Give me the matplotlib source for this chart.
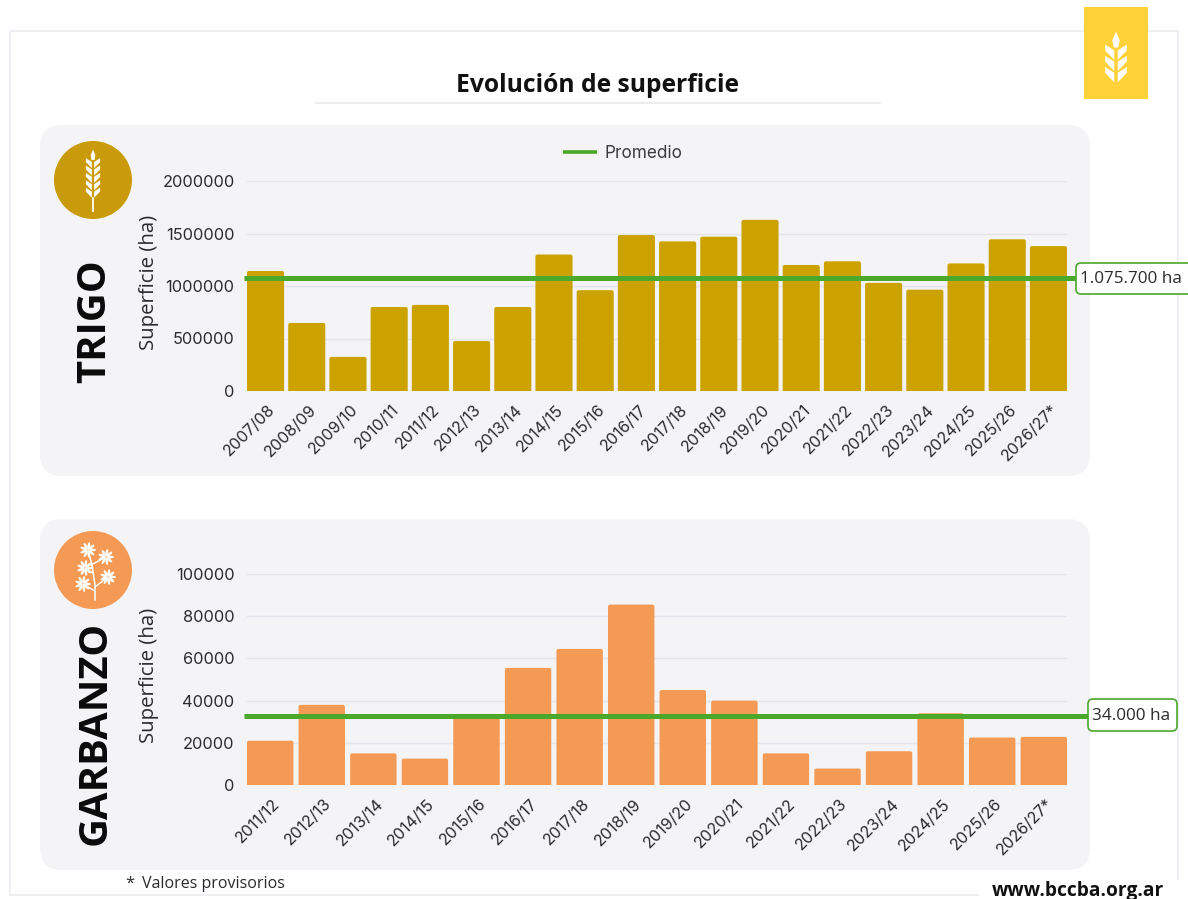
import matplotlib
matplotlib.use('Agg')
import math
import matplotlib.pyplot as plt
from matplotlib.patches import FancyBboxPatch, Rectangle, Circle, Ellipse, Polygon
from matplotlib.transforms import ScaledTranslation

W, H = 1188, 899

trigo_cat = ['2007/08', '2008/09', '2009/10', '2010/11', '2011/12', '2012/13', '2013/14',
             '2014/15', '2015/16', '2016/17', '2017/18', '2018/19', '2019/20', '2020/21',
             '2021/22', '2022/23', '2023/24', '2024/25', '2025/26', '2026/27*']
trigo_val = [1143000, 648000, 325000, 800000, 820000, 476000, 800000,
             1300000, 960000, 1485000, 1425000, 1470000, 1630000, 1200000,
             1235000, 1030000, 965000, 1215000, 1445000, 1380000]
trigo_prom = 1075700
trigo_ticks = [0, 500000, 1000000, 1500000, 2000000]

garb_cat = ['2011/12', '2012/13', '2013/14', '2014/15', '2015/16', '2016/17', '2017/18', '2018/19',
            '2019/20', '2020/21', '2021/22', '2022/23', '2023/24', '2024/25', '2025/26', '2026/27*']
garb_val = [21000, 38000, 15000, 12500, 33000, 55500, 64500, 85500,
            45000, 40000, 15000, 7800, 16000, 34000, 22500, 22800]
garb_prom = 32700   # la linea esta dibujada un poco por debajo de 34000
garb_ticks = [0, 20000, 40000, 60000, 80000, 100000]

VERDE = '#4aa82a'
TXT = '#2b2b2b'
GRID = '#e4e4ea'


def px_axes(x0, y_top, x1, y_bot):
    return plt.gcf().add_axes([x0 / W, 1 - y_bot / H, (x1 - x0) / W, (y_bot - y_top) / H])


def panel(bg, y0, y1):
    bg.add_patch(FancyBboxPatch((40 + 22, y0 + 22), 1050 - 44, y1 - y0 - 44,
                                boxstyle='round,pad=22,rounding_size=22',
                                fc='#f4f4f7', ec='none', zorder=1))


def espiga(a, cx, cy, s, n, paso, stem=None):
    # hojas de la espiga
    for i in range(n):
        yy = cy + i * paso
        for sgn in (-1, 1):
            a.add_patch(Polygon([(cx + sgn * 1.2 * s, yy + 7.5 * s), (cx + sgn * 7.5 * s, yy + 1 * s),
                                 (cx + sgn * 7.5 * s, yy - 3 * s), (cx + sgn * 1.2 * s, yy + 1 * s)],
                                fc='white', ec='none', zorder=6))
    a.add_patch(Polygon([(cx, cy - 12 * s), (cx + 2.5 * s, cy - 6 * s), (cx + 1.5 * s, cy - 1 * s),
                         (cx - 1.5 * s, cy - 1 * s), (cx - 2.5 * s, cy - 6 * s)],
                        fc='white', ec='none', zorder=6))
    if stem:
        a.plot([cx, cx], stem, color='white', lw=1.3, zorder=6)


def ramita(a, cx, cy):
    a.plot([cx + 2, cx + 2, cx - 1, cx - 5], [cy + 29, cy + 14, cy - 6, cy - 21],
           color='white', lw=1.1, zorder=5)
    for dx0, dy0, dx1, dy1 in [(2, 16, 15, 6), (2, 20, -10, 13), (0, 2, -8, -3), (-2, -6, 13, -14)]:
        a.plot([cx + dx0, cx + dx1], [cy + dy0, cy + dy1], color='white', lw=1.0, zorder=5)
    for gx, gy in [(-5, -21), (13, -14), (-8, -3), (15, 6), (-10, 13)]:
        for k in range(9):
            ang = k * 40
            dx = 4.5 * math.cos(math.radians(ang))
            dy = 4.5 * math.sin(math.radians(ang))
            a.add_patch(Ellipse((cx + gx + dx, cy + gy + dy), 7, 2.6, angle=ang,
                                fc='white', ec='none', zorder=6))


def barras(pos, cats, vals, ticks, ymax, prom, color, line_end):
    ax = px_axes(*pos)
    ax.patch.set_alpha(0)
    ax.set_xlim(-0.45, len(vals) - 0.55)
    ax.set_ylim(0, ymax)
    # esquinas de arriba redondeadas: la parte de abajo queda recortada por el eje
    x_px = (len(vals) - 1 + 0.9) / (pos[2] - pos[0])
    y_px = ymax / (pos[3] - pos[1])
    r = 2 * x_px
    for i, v in enumerate(vals):
        ax.add_patch(FancyBboxPatch((i - 0.45, -5 * y_px), 0.9, v + 5 * y_px,
                                    boxstyle='round,pad=0,rounding_size=%f' % r,
                                    mutation_aspect=y_px / x_px, fc=color, ec='none', zorder=2))
    ax.set_yticks(ticks)
    ax.set_yticklabels([str(t) for t in ticks])
    ax.set_xticks(range(len(cats)))
    ax.set_xticklabels(cats, rotation=45, ha='right', va='top', rotation_mode='anchor',
                       fontsize=11.6, family='Inter', color=TXT)
    plt.setp(ax.get_yticklabels(), fontsize=11.8, family='Inter', color=TXT)
    ax.tick_params(axis='both', length=0)
    ax.tick_params(axis='y', pad=9)
    ax.tick_params(axis='x', pad=8)
    off = ScaledTranslation(2 / 100, 0, plt.gcf().dpi_scale_trans)
    for l in ax.get_xticklabels():
        l.set_transform(l.get_transform() + off)
    ax.grid(axis='y', color=GRID, lw=1, zorder=1)
    ax.set_axisbelow(True)
    for s in ax.spines.values():
        s.set_visible(False)
    ax.plot([-3 / 820, line_end], [prom, prom], color=VERDE, lw=3.6, solid_capstyle='butt',
            transform=ax.get_yaxis_transform(), clip_on=False, zorder=4)
    return ax


fig = plt.figure(figsize=(W / 100, H / 100), dpi=100, facecolor='white')

bg = fig.add_axes([0, 0, 1, 1], zorder=0)
bg.set_xlim(0, W)
bg.set_ylim(H, 0)
bg.axis('off')

bg.add_patch(Rectangle((9.5, 31), 1168, 864, fc='white', ec='#eeeef3', lw=1.5, zorder=0))
panel(bg, 125, 476)
panel(bg, 519, 870)
bg.plot([316, 880], [103, 103], color='#e8e8ee', lw=1.2, zorder=1)
bg.text(598, 85.5, 'Evolución de superficie', family='Open Sans', weight='bold', fontsize=17.7,
        color='#111111', ha='center', va='center')

bg.add_patch(Circle((93, 180), 39, fc='#c99a0a', ec='none', zorder=3))
espiga(bg, 93, 161, 0.95, 5, 7.4, stem=(198, 211))
bg.add_patch(Circle((93, 570), 39, fc='#f49a55', ec='none', zorder=3))
ramita(bg, 93, 571)

bg.text(95, 321.5, 'TRIGO', family='Open Sans', weight='bold', fontsize=28.8, rotation=90,
        ha='center', va='center', color='#0a0a0a')
bg.text(95, 733, 'GARBANZO', family='Open Sans', weight='bold', fontsize=28.8, rotation=90,
        ha='center', va='center', color='#0a0a0a')
bg.text(149, 282, 'Superficie (ha)', family='Open Sans', fontsize=14.7, rotation=90,
        ha='center', va='center', color=TXT)
bg.text(149, 675, 'Superficie (ha)', family='Open Sans', fontsize=14.7, rotation=90,
        ha='center', va='center', color=TXT)

barras((247, 181, 1067, 391), trigo_cat, trigo_val, trigo_ticks, 2000000, trigo_prom,
       '#cba200', (1078 - 247) / 820)
barras((247, 574, 1067, 785), garb_cat, garb_val, garb_ticks, 100000, garb_prom,
       '#f49a55', (1090 - 247) / 820)

# capa de arriba: cajas de promedio, leyenda, logo y pie
top = fig.add_axes([0, 0, 1, 1], zorder=5)
top.set_xlim(0, W)
top.set_ylim(H, 0)
top.axis('off')

top.plot([563, 597], [151.5, 151.5], color=VERDE, lw=2.6, solid_capstyle='butt')
top.text(605, 153, 'Promedio', family='Inter', fontsize=12.4, color='#3c3c3c', va='center')

top.add_patch(FancyBboxPatch((1078, 265), 120, 27, boxstyle='round,pad=2,rounding_size=5',
                             fc='white', ec=VERDE, lw=1.2))
top.text(1131, 279, '1.075.700 ha', family='Open Sans', fontsize=12.3, color=TXT,
         ha='center', va='center')
top.add_patch(FancyBboxPatch((1090, 701), 85, 28, boxstyle='round,pad=2,rounding_size=5',
                             fc='white', ec=VERDE, lw=1.2))
top.text(1131, 715.5, '34.000 ha', family='Open Sans', fontsize=12.3, color=TXT,
         ha='center', va='center')

top.add_patch(Rectangle((1084, 7), 64, 92, fc='#ffd23a', ec='none'))
espiga(top, 1116, 49, 1.45, 3, 11.2)

top.text(125, 884, '*', family='Open Sans', fontsize=12, color=TXT, va='center')
top.text(142, 884, 'Valores provisorios', family='Open Sans', fontsize=11.5, color=TXT, va='center')

top.add_patch(Rectangle((979, 880), 209, 19, fc='white', ec='none'))
top.text(1078, 891, 'www.bccba.org.ar', family='Open Sans', weight='bold', fontsize=13.8,
         color='#111111', ha='center', va='center')

fig.savefig('out.png', dpi=100)
